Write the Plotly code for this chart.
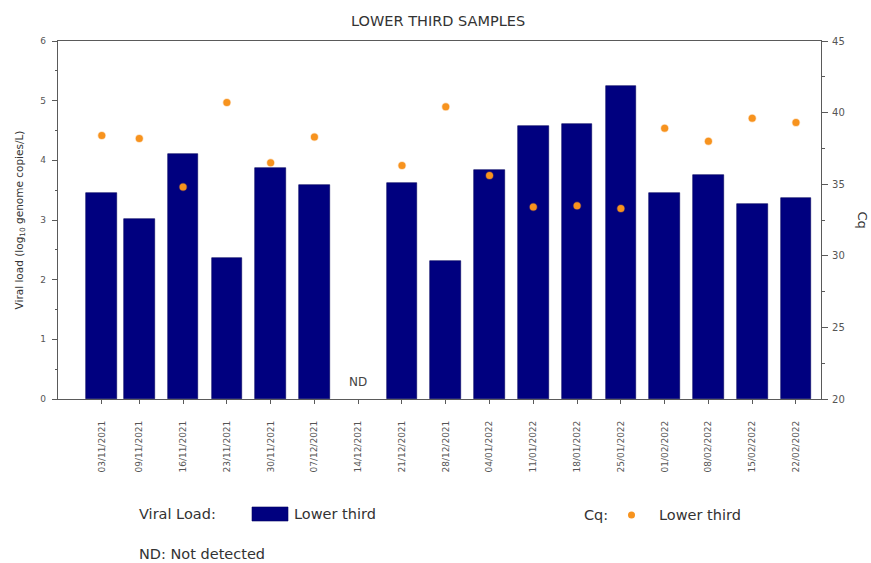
import plotly.graph_objects as go
from datetime import datetime

# Sampling dates (dd/mm/yyyy)
dates = ["03/11/2021", "09/11/2021", "16/11/2021", "23/11/2021", "30/11/2021",
         "07/12/2021", "14/12/2021", "21/12/2021", "28/12/2021", "04/01/2022",
         "11/01/2022", "18/01/2022", "25/01/2022", "01/02/2022", "08/02/2022",
         "15/02/2022", "22/02/2022"]

# Viral load, log10 genome copies/L (None = not detected)
viral_load = [3.46, 3.02, 4.10, 2.37, 3.87, 3.58, None, 3.62, 2.32, 3.83,
              4.57, 4.61, 5.25, 3.46, 3.76, 3.26, 3.37]

# Cq values (None = not detected)
cq = [38.4, 38.2, 34.8, 40.7, 36.5, 38.3, None, 36.3, 40.4, 35.6,
      33.4, 33.5, 33.3, 38.9, 38.0, 39.6, 39.3]

x = [datetime.strptime(d, "%d/%m/%Y") for d in dates]
nd_dates = [xi for xi, v in zip(x, viral_load) if v is None]

BAR = "#00007f"
DOT = "#f7931e"
AXIS = "#5a5a5a"
TXT = "#333333"
TICK_TXT = "#555555"
FONT = "DejaVu Sans, Verdana, sans-serif"

fig = go.Figure()

fig.add_trace(go.Bar(
    x=x, y=viral_load, width=4.9 * 86400000,
    marker=dict(color=BAR, line=dict(color="#000060", width=0.6)),
    showlegend=False, yaxis="y",
))

fig.add_trace(go.Scatter(
    x=x, y=cq, mode="markers", yaxis="y2",
    marker=dict(color=DOT, size=7, line=dict(color="rgba(247,147,30,0.3)", width=1.5)),
    showlegend=False,
))

# "ND" label above empty sampling dates
for d in nd_dates:
    fig.add_annotation(x=d, y=0, yref="y", text="ND", showarrow=False,
                       yanchor="bottom", yshift=8,
                       font=dict(family=FONT, size=12, color="#444444"))

fig.update_layout(
    width=871, height=563,
    margin=dict(l=58, r=50, t=41, b=164),
    paper_bgcolor="white", plot_bgcolor="white",
    font=dict(family=FONT, color=TXT),
    title=dict(text="LOWER THIRD SAMPLES", x=0.503, xanchor="center",
               y=0.963, yanchor="middle",
               font=dict(family=FONT, size=14.5, color=TXT)),
    bargap=0,
    xaxis=dict(
        type="date",
        range=[datetime(2021, 10, 27), datetime(2022, 2, 26)],
        tickmode="array", tickvals=x, ticktext=dates, tickangle=-90,
        ticks="outside", ticklen=4, tickcolor=AXIS, ticklabelstandoff=13,
        tickfont=dict(family=FONT, size=9, color=TICK_TXT),
        showline=True, linecolor=AXIS, linewidth=1.2, mirror=True,
        showgrid=False, zeroline=False,
    ),
    yaxis=dict(
        range=[0, 6], dtick=1, ticks="outside", ticklen=5, tickcolor=AXIS,
        minor=dict(dtick=0.5, ticks="outside", ticklen=2, tickcolor=AXIS),
        showline=True, linecolor=AXIS, linewidth=1.2, ticklabelstandoff=4,
        showgrid=False, zeroline=False,
        tickfont=dict(family=FONT, size=9, color=TICK_TXT),
        title=dict(text="Viral load (log<sub>10</sub> genome copies/L)",
                   font=dict(family=FONT, size=10.5, color=TXT), standoff=14),
    ),
    yaxis2=dict(
        range=[20, 45], dtick=5, overlaying="y", side="right",
        ticks="outside", ticklen=6, tickcolor=AXIS, ticklabelstandoff=2,
        minor=dict(dtick=2.5, ticks="outside", ticklen=3, tickcolor=AXIS),
        showline=True, linecolor=AXIS, linewidth=1.2,
        showgrid=False, zeroline=False,
        tickfont=dict(family=FONT, size=10, color=TICK_TXT),
    ),
)

# Right-axis title, rotated clockwise
fig.add_annotation(text="Cq", xref="paper", yref="paper", x=1.0, y=0.5,
                   xanchor="left", xshift=32, showarrow=False, textangle=90,
                   font=dict(family=FONT, size=13, color=TXT))

# Legend row below the axis
LEG_Y = 514
def py(px_y):
    return (399 - px_y) / 358.0
def px(px_x):
    return (px_x - 58) / 763.0

legend_font = dict(family=FONT, size=14.5, color=TXT)
fig.add_annotation(text="Viral Load:", xref="paper", yref="paper",
                   x=px(137), y=py(LEG_Y), xanchor="left", yanchor="middle",
                   showarrow=False, font=legend_font)
fig.add_shape(type="rect", xref="paper", yref="paper",
              x0=px(252), x1=px(288), y0=py(521), y1=py(507),
              fillcolor=BAR, line=dict(color="#000060", width=0.6))
fig.add_annotation(text="Lower third", xref="paper", yref="paper",
                   x=px(292), y=py(LEG_Y), xanchor="left", yanchor="middle",
                   showarrow=False, font=legend_font)
fig.add_annotation(text="Cq:", xref="paper", yref="paper",
                   x=px(582), y=py(LEG_Y + 1), xanchor="left", yanchor="middle",
                   showarrow=False, font=legend_font)
fig.add_shape(type="circle", xref="paper", yref="paper",
              x0=px(628), x1=px(635), y0=py(518.5), y1=py(511.5),
              fillcolor=DOT, line=dict(color=DOT, width=0))
fig.add_annotation(text="Lower third", xref="paper", yref="paper",
                   x=px(657), y=py(LEG_Y + 1), xanchor="left", yanchor="middle",
                   showarrow=False, font=legend_font)
fig.add_annotation(text="ND: Not detected", xref="paper", yref="paper",
                   x=px(137), y=py(554), xanchor="left", yanchor="middle",
                   showarrow=False, font=legend_font)

fig.write_html("out.html")
